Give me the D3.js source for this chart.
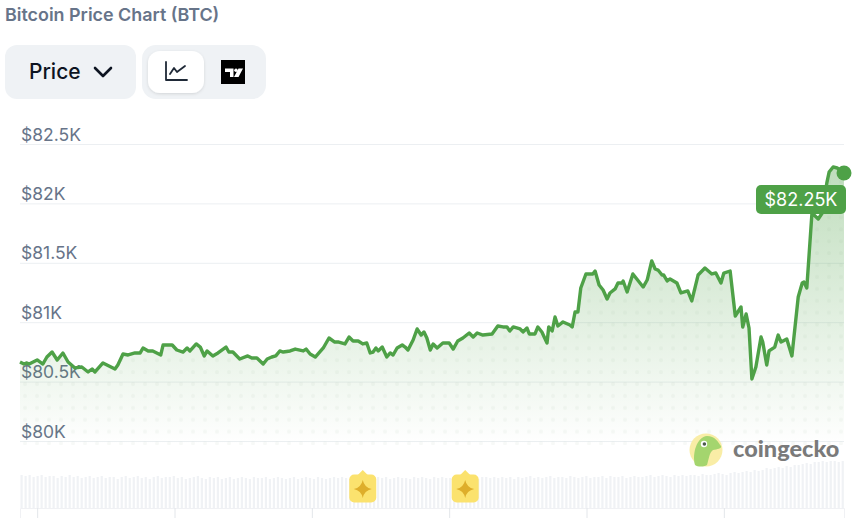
<!DOCTYPE html>
<html>
<head>
<meta charset="utf-8">
<title>Bitcoin Price Chart (BTC)</title>
<script src="https://cdn.jsdelivr.net/npm/d3@7"></script>
<style>
  html, body { margin: 0; padding: 0; background: #fff; overflow: hidden; }
  svg { display: block; font-family: Inter, "Noto Sans", sans-serif; }
</style>
</head>
<body>
<div id="chart"></div>
<script>
// minutes since the start of the 24h window
var minutes = [0,7,12,16,30,40,47,56,65,75,84,96,108,119,126,131,145,166,171,180,189,201,210,215,224,232,246,250,266,274,285,292,297,308,315,322,327,337,346,360,365,372,384,398,405,414,425,432,440,447,454,460,472,481,495,500,507,516,530,540,550,557,568,575,582,591,599,606,612,617,622,626,633,641,647,652,659,668,673,678,687,694,701,706,711,717,722,729,739,750,757,765,774,785,792,799,809,825,835,844,851,856,862,874,879,886,890,900,905,912,921,924,930,935,940,949,961,965,970,975,980,989,1001,1005,1012,1019,1026,1031,1040,1045,1052,1054,1061,1071,1089,1096,1104,1110,1115,1122,1125,1131,1136,1148,1155,1167,1174,1185,1197,1209,1216,1225,1230,1241,1250,1260,1263,1269,1274,1279,1286,1295,1298,1305,1309,1319,1325,1330,1340,1349,1360,1367,1370,1375,1384,1395,1402,1410,1414,1421,1428,1440];

// BTC price in USD
var prices = [80665,80648,80657,80648,80682,80648,80707,80749,80682,80741,80665,80615,80623,80581,80606,80581,80657,80606,80640,80732,80724,80741,80741,80783,80758,80758,80724,80808,80808,80766,80749,80783,80758,80817,80791,80716,80758,80716,80741,80791,80749,80749,80690,80716,80699,80699,80648,80690,80707,80716,80758,80749,80758,80774,80758,80774,80732,80707,80783,80867,80833,80833,80817,80875,80842,80842,80817,80825,80741,80749,80783,80758,80791,80707,80741,80724,80783,80808,80791,80766,80850,80943,80892,80918,80867,80766,80817,80783,80825,80825,80774,80842,80867,80909,80875,80909,80892,80901,80968,80960,80960,80926,80960,80943,80918,80951,80901,80901,80960,80918,80825,80960,80926,81044,80968,81002,80976,80960,81086,81086,81288,81406,81406,81431,81313,81271,81195,81246,81280,81330,81330,81347,81254,81406,81296,81355,81515,81448,81439,81397,81397,81347,81364,81330,81246,81263,81179,81397,81456,81406,81414,81330,81414,81431,81052,81128,80960,81069,80951,80522,80623,80875,80833,80640,80758,80791,80892,80833,80859,80716,81212,81330,81338,81288,81919,81869,81919,82172,82264,82307,82298,82256];

var volumes = [
  33,32,33,31,32,33,31,32,32,30,32,31,33,31,32,30,31,32,30,31,
  32,30,31,31,29,31,32,30,31,32,30,31,29,31,32,30,31,31,32,30,
  31,29,30,31,32,30,29,31,30,31,29,30,31,29,30,31,30,29,31,30,
  30,31,29,30,31,30,29,30,31,29,30,31,30,29,31,30,29,30,31,30,
  31,30,29,31,30,30,31,29,30,31,30,31,29,30,31,30,30,29,31,30,
  31,30,29,31,30,31,30,30,31,29,31,30,31,30,29,31,31,30,31,30,
  31,30,31,29,31,30,31,32,30,31,30,31,32,30,31,31,30,32,31,30,
  31,32,30,31,31,32,30,32,31,31,32,30,31,32,31,31,32,33,31,32,
  33,32,31,33,32,33,32,33,33,32,34,33,33,34,35,34,33,35,36,35,
  36,37,36,38,37,38,40,39,40,41,40,42,41,43,43,44,45,44,46,46,
  47,46,47,47,46,47
];
var volumeStep = 7;

var yTicks = [80000, 80500, 81000, 81500, 82000, 82500];
var yTickLabels = ["$80K", "$80.5K", "$81K", "$81.5K", "$82K", "$82.5K"];
var timeTicks = [30, 270, 510, 750, 990, 1230];
var eventMinutes = [599, 778];

var title = "Bitcoin Price Chart (BTC)";
var lastPriceLabel = "$82.25K";
var green = "#4ea147";

var svg = d3.select("#chart").append("svg")
  .attr("width", 856)
  .attr("height", 518);

var x = d3.scaleLinear().domain([0, 1440]).range([20, 844]);
var y = d3.scaleLinear().domain([80000, 82500]).range([441, 144]);
var yVolume = d3.scaleLinear().domain([0, 47]).range([508, 461]);

var points = minutes.map(function (m, i) { return [m, prices[i]]; });

var defs = svg.append("defs");

var gradient = defs.append("linearGradient")
  .attr("id", "area-fill")
  .attr("gradientUnits", "userSpaceOnUse")
  .attr("x1", 0).attr("x2", 0)
  .attr("y1", y(82300)).attr("y2", 445);
gradient.append("stop").attr("offset", 0).attr("stop-color", green).attr("stop-opacity", 0.36);
gradient.append("stop").attr("offset", 1).attr("stop-color", green).attr("stop-opacity", 0);

// the dotted texture on the area
var pattern = defs.append("pattern")
  .attr("id", "area-dots")
  .attr("patternUnits", "userSpaceOnUse")
  .attr("x", 19).attr("y", 378)
  .attr("width", 12).attr("height", 11.9);
pattern.append("circle")
  .attr("cx", 6).attr("cy", 6).attr("r", 2.1)
  .attr("fill", "#5f8f66").attr("fill-opacity", 0.05);

// Header
svg.append("text")
  .attr("x", 5).attr("y", 21)
  .attr("font-size", 17.9).attr("font-weight", 600)
  .attr("fill", "#677489")
  .text(title);

svg.append("rect")
  .attr("x", 5).attr("y", 45).attr("width", 131).attr("height", 54).attr("rx", 12)
  .attr("fill", "#eff2f5");
svg.append("text")
  .attr("x", 29).attr("y", 79)
  .attr("font-size", 21).attr("font-weight", 500)
  .attr("fill", "#0d1421")
  .text("Price");
svg.append("path")
  .attr("d", d3.line()([[95, 68], [103, 76], [111, 68]]))
  .attr("fill", "none").attr("stroke", "#0d1421").attr("stroke-width", 2.6)
  .attr("stroke-linecap", "round").attr("stroke-linejoin", "round");

svg.append("rect")
  .attr("x", 142).attr("y", 45).attr("width", 124).attr("height", 54).attr("rx", 14)
  .attr("fill", "#eff2f5");
defs.append("filter").attr("id", "btn-shadow")
  .attr("x", "-20%").attr("y", "-20%").attr("width", "140%").attr("height", "140%")
  .append("feDropShadow")
  .attr("dx", 0).attr("dy", 1).attr("stdDeviation", 1.5)
  .attr("flood-color", "#000").attr("flood-opacity", 0.12);
svg.append("rect")
  .attr("x", 148).attr("y", 51).attr("width", 56).attr("height", 42).attr("rx", 12)
  .attr("fill", "#fff").attr("filter", "url(#btn-shadow)");
svg.append("path")
  .attr("d", d3.line()([[166, 62], [166, 80], [187, 80]]))
  .attr("fill", "none").attr("stroke", "#1f2937").attr("stroke-width", 1.8)
  .attr("stroke-linecap", "round").attr("stroke-linejoin", "round");
svg.append("path")
  .attr("d", d3.line()([[170, 74], [174, 68], [177, 72], [185, 66]]))
  .attr("fill", "none").attr("stroke", "#1f2937").attr("stroke-width", 1.8)
  .attr("stroke-linecap", "round").attr("stroke-linejoin", "round");
svg.append("rect")
  .attr("x", 221).attr("y", 60).attr("width", 24).attr("height", 24)
  .attr("fill", "#000");
svg.append("path")
  .attr("d", "M225 68.5h8.5v8.5h-3.5v-5h-5z M238.5 68.5h4.5l-4.5 8.5h-4.5z")
  .attr("fill", "#fff");
svg.append("circle")
  .attr("cx", 236).attr("cy", 70.3).attr("r", 1.7)
  .attr("fill", "#fff");

// Y axis: gridlines with the labels sitting above them
var yAxis = svg.append("g")
  .attr("transform", "translate(20,0)")
  .call(d3.axisRight(y)
    .tickValues(yTicks)
    .tickSize(824)
    .tickFormat(function (d, i) { return yTickLabels[i]; }));
yAxis.select(".domain").remove();
yAxis.selectAll(".tick line").attr("stroke", "#eceff2");
yAxis.selectAll(".tick text")
  .attr("x", 1).attr("dy", -4)
  .attr("text-anchor", "start")
  .attr("font-family", "Inter, sans-serif")
  .attr("font-size", 17.5)
  .attr("fill", "#677489")
  .attr("dominant-baseline", "auto");

// Area
var area = d3.area()
  .x(function (d) { return x(d[0]); })
  .y0(445)
  .y1(function (d) { return y(d[1]); });
svg.append("path").datum(points).attr("d", area).attr("fill", "url(#area-fill)");
svg.append("path").datum(points).attr("d", area).attr("fill", "url(#area-dots)");

// Volume bars
svg.append("g").selectAll("rect")
  .data(volumes)
  .join("rect")
  .attr("x", function (d, i) { return x(i * volumeStep) + 0.5; })
  .attr("y", function (d) { return yVolume(d); })
  .attr("width", 2.2)
  .attr("height", function (d) { return 508 - yVolume(d); })
  .attr("fill", "#f0f2f5");

// Time axis, its labels fall below the picture
var xAxis = svg.append("g")
  .attr("transform", "translate(0,508)")
  .call(d3.axisBottom(x).tickValues(timeTicks).tickSize(10).tickFormat(""));
xAxis.select(".domain").attr("stroke", "#f0f1f4");
xAxis.selectAll(".tick line").attr("stroke", "#e3e6ea");

// Event markers on the volume strip
var events = svg.append("g").selectAll("g")
  .data(eventMinutes)
  .join("g")
  .attr("transform", function (d) { return "translate(" + x(d) + ",489)"; });
events.append("path").attr("d", "M-5,-14L0,-19L5,-14Z").attr("fill", "#fbe26e");
events.append("rect")
  .attr("x", -13.5).attr("y", -14.5).attr("width", 27).attr("height", 28).attr("rx", 5)
  .attr("fill", "#fbe26e");
events.append("path")
  .attr("d", "M0,-9Q1.5,-1.5,9,0Q1.5,1.5,0,9Q-1.5,1.5,-9,0Q-1.5,-1.5,0,-9Z")
  .attr("fill", "#deae2b");

// Watermark
var logo = svg.append("g").attr("transform", "translate(706,450)");
logo.append("circle").attr("r", 16.5).attr("fill", "#f9eda6");
logo.append("path")
  .attr("d", "M-11,15C-14,3,-9,-13,1,-14C9,-14,12,-8,15,-4C16,-1,11,-1,7,0C3,3,3,9,1,15C-3,17,-8,17,-11,15Z")
  .attr("fill", "#a4d56e");
logo.append("circle").attr("cx", -2).attr("cy", -6).attr("r", 3.2).attr("fill", "#fff");
logo.append("circle").attr("cx", -1.6).attr("cy", -6).attr("r", 1.8).attr("fill", "#4b5a4b");
svg.append("text")
  .attr("x", 733).attr("y", 457)
  .attr("font-family", "Lato, sans-serif")
  .attr("font-size", 23.5).attr("font-weight", 900)
  .attr("fill", "#7a7a7a")
  .text("coingecko");

// Price line
svg.append("path").datum(points)
  .attr("d", d3.line()
    .x(function (d) { return x(d[0]); })
    .y(function (d) { return y(d[1]); }))
  .attr("fill", "none")
  .attr("stroke", green)
  .attr("stroke-width", 3.4)
  .attr("stroke-linejoin", "round");

var last = points[points.length - 1];
svg.append("circle")
  .attr("cx", x(last[0])).attr("cy", y(last[1])).attr("r", 7.5)
  .attr("fill", green);

// Label for the latest price
svg.append("rect")
  .attr("x", 756).attr("y", 185).attr("width", 90).attr("height", 29).attr("rx", 5)
  .attr("fill", green);
svg.append("text")
  .attr("x", 801).attr("y", 206)
  .attr("text-anchor", "middle")
  .attr("font-size", 18)
  .attr("fill", "#fff")
  .text(lastPriceLabel);
</script>
</body>
</html>
